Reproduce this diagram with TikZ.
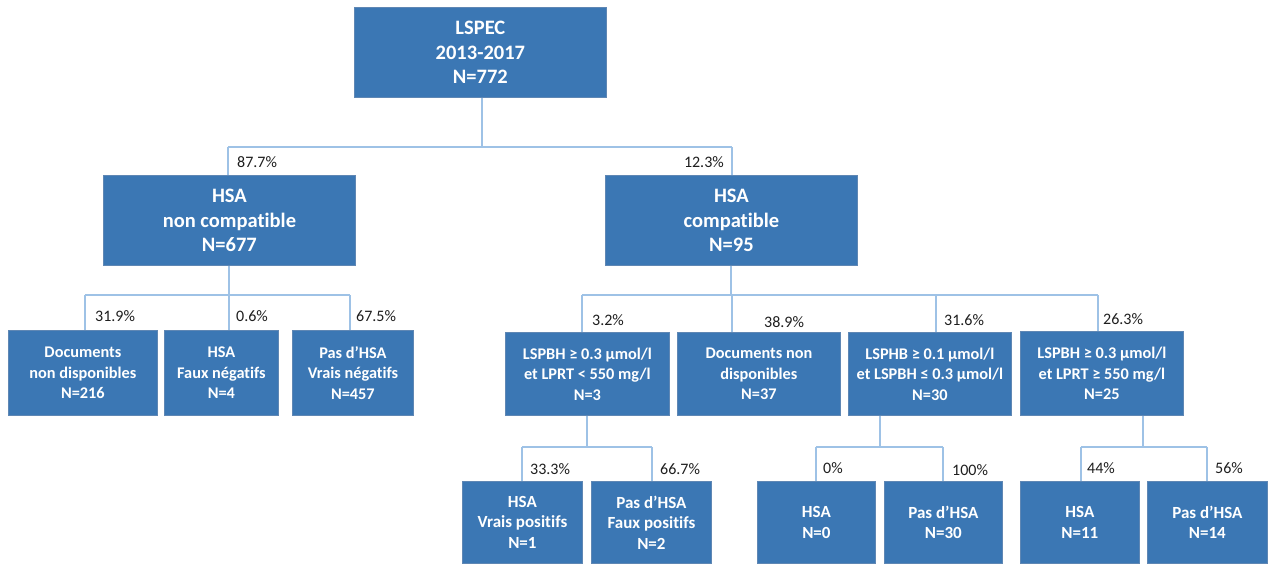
\documentclass[tikz,border=0pt]{standalone}
\usepackage{fontspec}
\setmainfont{Carlito}[Ligatures=NoCommon]
\definecolor{boxblue}{RGB}{59,119,180}
\definecolor{boxedge}{RGB}{95,135,180}
\definecolor{linkblue}{RGB}{158,194,230}
\definecolor{labtext}{RGB}{30,30,30}
\tikzset{
  box/.style={rectangle, fill=boxblue, draw=boxedge, line width=0.8pt, text=white,
    align=center, inner sep=0pt, anchor=north west},
  bigbox/.style={box, font=\bfseries\fontsize{20.5}{24.5}\selectfont},
  midbox/.style={box, font=\bfseries\fontsize{16.3}{20.5}\selectfont},
  smallbox/.style={box, font=\bfseries\fontsize{17}{20.5}\selectfont},
  pct/.style={anchor=base west, inner sep=0pt, text=labtext, font=\fontsize{16}{19}\selectfont},
  link/.style={draw=linkblue, line width=1.4pt},
}
\newcommand{\bx}[7]{% style, name, x1, y1, x2, y2, text
  \node[#1, minimum width=#5pt-#3pt, minimum height=#6pt-#4pt] (#2) at (#3,#4) {#7};}
\begin{document}
\begin{tikzpicture}[x=1pt,y=-1pt]
\useasboundingbox (0,0) rectangle (1270,563);
% boxes
\bx{bigbox}{root}{354}{7}{606}{97}{LSPEC\\2013-2017\\N=772}
\bx{bigbox}{nc}{103}{175}{355}{265}{HSA\\non compatible\\N=677}
\bx{bigbox}{co}{605}{175}{857}{265}{HSA\\compatible\\N=95}
\bx{midbox}{a1}{8}{330}{157}{415}{Documents\\non disponibles\\N=216}
\bx{midbox}{a2}{164}{330}{278}{415}{HSA\\Faux négatifs\\N=4}
\bx{midbox}{a3}{292}{330}{413}{415}{Pas d’HSA\\Vrais négatifs\\N=457}
\bx{midbox}{b1}{505}{332}{669}{415}{LSPBH ≥ 0.3 µmol/l\\et LPRT < 550 mg/l\\N=3}
\bx{midbox}{b2}{677}{332}{840}{415}{Documents non\\disponibles\\N=37}
\bx{midbox}{b3}{848}{332}{1011}{415}{LSPHB ≥ 0.1 µmol/l\\et LSPBH ≤ 0.3 µmol/l\\N=30}
\bx{midbox}{b4}{1020}{331}{1183}{415}{LSPBH ≥ 0.3 µmol/l\\et LPRT ≥ 550 mg/l\\N=25}
\bx{smallbox}{c1}{462}{481}{582}{563}{HSA\\Vrais positifs\\N=1}
\bx{smallbox}{c2}{591}{481}{711}{563}{Pas d’HSA\\Faux positifs\\N=2}
\bx{smallbox}{d1}{757}{481}{875}{563}{HSA\\N=0}
\bx{smallbox}{d2}{884}{481}{1002}{563}{Pas d’HSA\\N=30}
\bx{smallbox}{e1}{1020}{481}{1139}{563}{HSA\\N=11}
\bx{smallbox}{e2}{1147}{481}{1267}{563}{Pas d’HSA\\N=14}
% bus coordinates
\coordinate (r0) at (482,147);
\coordinate (r1) at (228,147);
\coordinate (r2) at (732,147);
\coordinate (l0) at (229,295);
\coordinate (l1) at (85,295);
\coordinate (l2) at (229,295);
\coordinate (l3) at (350,295);
\coordinate (m0) at (731,295);
\coordinate (m1) at (582,295);
\coordinate (m2) at (732,295);
\coordinate (m3) at (936,295);
\coordinate (m4) at (1098,295);
\coordinate (p0) at (587,447);
\coordinate (p1) at (522,447);
\coordinate (p2) at (652,447);
\coordinate (q0) at (880,447);
\coordinate (q1) at (816,447);
\coordinate (q2) at (943,447);
\coordinate (s0) at (1143,447);
\coordinate (s1) at (1081,447);
\coordinate (s2) at (1207,447);
% connectors
\draw[link] (root.south -| r0) -- (r0);
\draw[link] (r1) -- (r2);
\draw[link] (r1) -- (r1 |- nc.north);
\draw[link] (r2) -- (r2 |- co.north);
\draw[link] (nc.south -| l0) -- (l0);
\draw[link] (l1) -- (l3);
\draw[link] (l1) -- (l1 |- a1.north);
\draw[link] (l2) -- (l2 |- a2.north);
\draw[link] (l3) -- (l3 |- a3.north);
\draw[link] (co.south -| m0) -- (m0);
\draw[link] (m1) -- (m4);
\draw[link] (m1) -- (m1 |- b1.north);
\draw[link] (m2) -- (m2 |- b2.north);
\draw[link] (m3) -- (m3 |- b3.north);
\draw[link] (m4) -- (m4 |- b4.north);
\draw[link] (b1.south -| p0) -- (p0);
\draw[link] (p1) -- (p2);
\draw[link] (p1) -- (p1 |- c1.north);
\draw[link] (p2) -- (p2 |- c2.north);
\draw[link] (b3.south -| q0) -- (q0);
\draw[link] (q1) -- (q2);
\draw[link] (q1) -- (q1 |- d1.north);
\draw[link] (q2) -- (q2 |- d2.north);
\draw[link] (b4.south -| s0) -- (s0);
\draw[link] (s1) -- (s2);
\draw[link] (s1) -- (s1 |- e1.north);
\draw[link] (s2) -- (s2 |- e2.north);
% percentages
\node[pct] (t1) at (237,167) {87.7\%};
\node[pct, anchor=base east] (t2) at (724,167) {12.3\%};
\node[pct] (t3) at (95,321) {31.9\%};
\node[pct] (t4) at (236,321) {0.6\%};
\node[pct] (t5) at (356,321) {67.5\%};
\node[pct] (t6) at (592,325) {3.2\%};
\node[pct] (t7) at (764,327) {38.9\%};
\node[pct] (t8) at (944,325) {31.6\%};
\node[pct] (t9) at (1103,324) {26.3\%};
\node[pct] (t10) at (530,474) {33.3\%};
\node[pct] (t11) at (660,474) {66.7\%};
\node[pct] (t12) at (823,473) {0\%};
\node[pct] (t13) at (952,475) {100\%};
\node[pct] (t14) at (1087,473) {44\%};
\node[pct] (t15) at (1215,473) {56\%};
\end{tikzpicture}
\end{document}
